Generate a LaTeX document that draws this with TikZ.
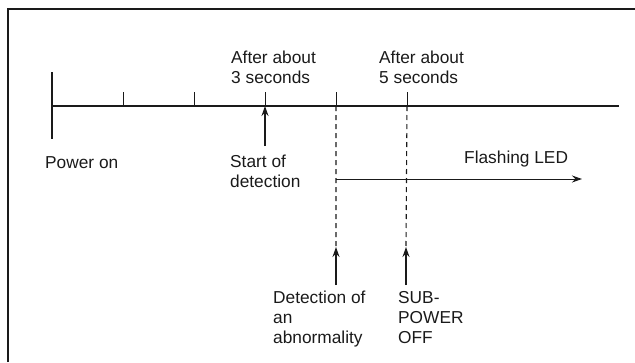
\documentclass[tikz,border=0pt]{standalone}
\usepackage{fontspec}
\setmainfont{Liberation Sans}
\usetikzlibrary{arrows.meta}
\definecolor{ink}{HTML}{1A1A1A}

\begin{document}
\begin{tikzpicture}[x=1pt, y=-1pt, color=ink,
    font=\fontsize{17.3}{20}\selectfont,
    lbl/.style={anchor=base west, inner sep=0pt, align=left},
    tip/.style={line width=1.2pt, -{Stealth[length=10pt,width=7pt]}}]
  \useasboundingbox (0,0) rectangle (635,362);
  \draw[line width=1.4pt] (8,362) -- (8,9) -- (635,9); % frame

  % time axis
  \coordinate (t0) at (52,106);
  \coordinate (tend) at (619,106);
  \draw[line width=2.6pt] (t0) -- (tend);
  \draw[line width=2.6pt] (52,72) -- (52,139);
  \foreach \x/\n in {123/1,194/2,265/3,336/4,407/5} {
    \coordinate (k\n) at (\x,106);
    \draw[line width=1pt] (\x,92) -- (k\n);
  }

  % labels (base = last line)
  \node[lbl] (pwr) at (45,168) {Power on};
  \node[lbl] (sec3) at (231,83) {After about\\3 seconds};
  \node[lbl] (sec5) at (379,83) {After about\\5 seconds};
  \node[lbl] (start) at (230,187) {Start of\\detection};
  \node[lbl] (led) at (464,163) {Flashing LED};
  \node[lbl] (abn) at (273,343) {Detection of\\an\\abnormality};
  \node[lbl] (sub) at (398,343) {SUB-\\POWER\\OFF};

  % markers
  \coordinate (s3) at (265,146);
  \draw[tip] (s3) -- (k3);
  \coordinate (d4) at (336,247);
  \coordinate (d5) at (406,247);
  \draw[dashed, dash pattern=on 5pt off 4pt, line width=1.1pt] (k4) -- (d4)
                                                             (k5) -- (d5);
  \coordinate (a4) at (336,285);
  \coordinate (a5) at (406,285);
  \draw[tip] (a4) -- (d4);
  \draw[tip] (a5) -- (d5);

  % flashing period
  \coordinate (f0) at (336,179);
  \coordinate (f1) at (582,179);
  \draw[tip, line width=1pt] (f0) -- (f1);
\end{tikzpicture}
\end{document}
